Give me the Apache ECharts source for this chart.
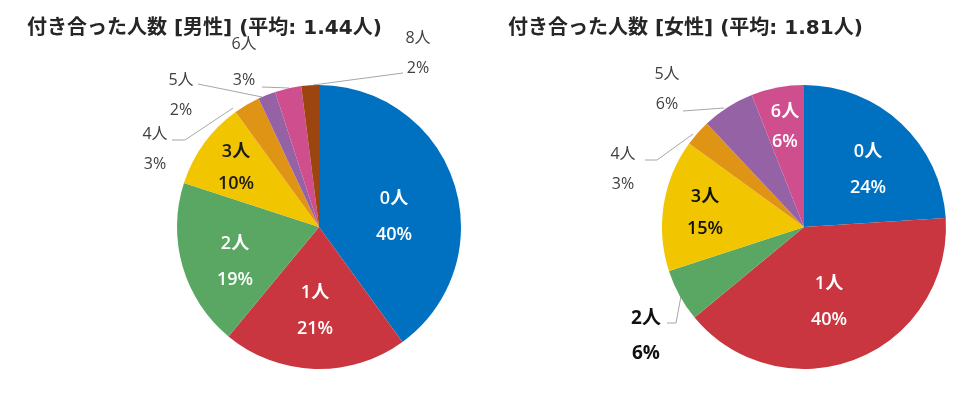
<!DOCTYPE html>
<html><head><meta charset="utf-8">
<script src="https://cdn.jsdelivr.net/npm/echarts@6/dist/echarts.min.js"></script>
<style>html,body{margin:0;padding:0;background:#fff}#c{width:971px;height:397px}</style>
</head><body><div id="c"></div>
<script>
var maleCategories = ['0人','1人','2人','3人','4人','5人','6人','8人'];
var maleValues = [40, 21, 19, 10, 3, 2, 3, 2];
var femaleCategories = ['0人','1人','2人','3人','4人','5人','6人'];
var femaleValues = [24, 40, 6, 15, 3, 6, 6];
var maleTitle = '付き合った人数 [男性] (平均: 1.44人)';
var femaleTitle = '付き合った人数 [女性] (平均: 1.81人)';

var colorMap = {'0人':'#0071C1','1人':'#C9363F','2人':'#5AA764','3人':'#F1C500','4人':'#DF9416','5人':'#9662A6','6人':'#CF4F8E','8人':'#9D4511'};
var FONT = '"Open Sans", "Noto Sans CJK JP", sans-serif';
var TFONT = '"DejaVu Sans", "Noto Sans CJK JP", sans-serif';

// label placements (text only)
var maleLabelPos = [
  {x:394,y:217,c:'#fff',in:true},
  {x:315,y:311,c:'#fff',in:true},
  {x:235,y:262,c:'#fff',in:true},
  {x:236,y:168,c:'#1a1a1a',in:true,lh:32},
  {x:155,y:149,c:'#404040',line:[[233,108],[185,140],[172,140]]},
  {x:181,y:95,c:'#404040',line:[[262,97],[198,84]]},
  {x:244,y:62,c:'#404040',lh:36,line:[[289,88],[262,87]]},
  {x:418,y:53,c:'#404040',line:[[313,85],[403,73]]}
];
var femaleLabelPos = [
  {x:868,y:170,c:'#fff',in:true},
  {x:829,y:302,c:'#fff',in:true},
  {x:646,y:336,c:'#111',big:true,line:[[681,296],[676,323],[667,323]]},
  {x:705,y:213,c:'#111',in:true,lh:32},
  {x:623,y:169,c:'#404040',line:[[693,134],[657,160],[645,160]]},
  {x:667,y:89,c:'#404040',line:[[724,108],[683,111]]},
  {x:785,y:127,c:'#fff',in:true,lh:30}
];

function buildData(cats, vals, pos){
  return cats.map(function(c,i){
    var p = pos[i];
    var lab = {show:true, position: p.in ? 'inside' : 'outside', color:p.c,
      fontFamily:FONT, fontSize: p.big ? 19 : (p.in ? 18 : 16),
      fontWeight: p.in ? 600 : (p.big ? 'bold' : 'normal'),
      lineHeight: p.lh || (p.in ? 36 : (p.big ? 35 : 30))};
    return {name:c, value:vals[i], itemStyle:{color:colorMap[c]}, label:lab,
      labelLine:{show: !p.in, lineStyle:{color:'#a6a6a6', width:1}}};
  });
}
function layoutFn(pos){
  return function(params){
    var p = pos[params.dataIndex];
    var r = {x:p.x, y:p.y, align:'center', verticalAlign:'middle'};
    if (p.line) r.labelLinePoints = p.line;
    return r;
  };
}
function pie(cats, vals, pos, cx){
  return {
    type:'pie', center:[cx,227], radius:142, startAngle:90, clockwise:true,
    animation:false, avoidLabelOverlap:false,
    label:{formatter:'{b}\n{d}%'},
    labelLine:{length:10,length2:10},
    labelLayout: layoutFn(pos),
    emphasis:{disabled:true},
    data: buildData(cats, vals, pos)
  };
}
var chart = echarts.init(document.getElementById('c'), null, {renderer:'canvas'});
chart.setOption({
  animation:false,
  title:[
    {text:maleTitle, left:27, top:19, padding:0, textStyle:{fontFamily:TFONT, fontSize:20, fontWeight:'bold', color:'#262626'}},
    {text:femaleTitle, left:508, top:19, padding:0, textStyle:{fontFamily:TFONT, fontSize:20, fontWeight:'bold', color:'#262626'}}
  ],
  series:[
    pie(maleCategories, maleValues, maleLabelPos, 319),
    pie(femaleCategories, femaleValues, femaleLabelPos, 804)
  ]
});
</script></body></html>
